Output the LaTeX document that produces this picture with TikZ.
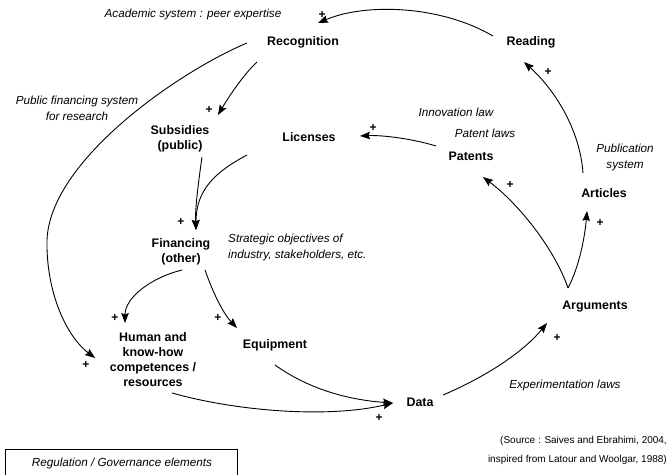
\documentclass[tikz,border=0pt]{standalone}
\usepackage{fontspec}
\setmainfont{Liberation Sans}
\usetikzlibrary{arrows.meta}
\begin{document}
\begin{tikzpicture}[x=1pt,y=-1pt,
  element/.style={font=\fontsize{12.4}{15}\selectfont\bfseries, inner sep=0pt, align=center},
  rule/.style={font=\fontsize{11.7}{16}\selectfont\itshape, inner sep=0pt},
  plus/.style={font=\fontsize{12}{12}\selectfont\bfseries, inner sep=0pt},
  link/.style={line width=0.9pt, -{Stealth[length=10pt,width=7.5pt,inset=1.5pt]}},
  note/.style={font=\fontsize{10}{19}\selectfont, inner sep=0pt, align=right}]
\useasboundingbox (0,0) rectangle (668,474);

% system elements
\node[element] (rec)  at (303,42)    {Recognition};
\node[element] (read) at (531,42)    {Reading};
\node[element] (sub)  at (180,138.5) {Subsidies\\(public)};
\node[element] (lic)  at (309,137)   {Licenses};
\node[element] (fin)  at (181,252)   {Financing\\(other)};
\node[element] (hum)  at (153,359.5) {Human and\\know-how\\competences /\\resources};
\node[element] (equ)  at (275,345)   {Equipment};
\node[element] (data) at (420,402)   {Data};
\node[element] (arg)  at (595,307)   {Arguments};
\node[element] (art)  at (604,193)   {Articles};
\node[element] (pat)  at (471,156)   {Patents};

% regulation / governance labels
\node[rule] (acad) at (193,14) {Academic system : peer expertise};
\node[rule, align=center] (pubfin) at (77,108.5) {Public financing system\\for research};
\node[rule] (inno) at (456,112) {Innovation law};
\node[rule] (patl) at (485,133) {Patent laws};
\node[rule, align=center] (pubsys) at (625,157) {Publication\\system};
\node[rule, align=left, anchor=west] (strat) at (228,247) {Strategic objectives of\\industry, stakeholders, etc.};
\node[rule] (expl) at (565,385) {Experimentation laws};

% legend and source
\node[rule, draw, line width=0.7pt, minimum width=232pt, minimum height=32pt] (legend) at (121,465) {};
\node[rule] (legendtxt) at (122,463) {Regulation / Governance elements};
\node[note, anchor=east] (src) at (667,450.5) {(Source : Saives and Ebrahimi, 2004,\\inspired from Latour and Woolgar, 1988)};

% causal links
\draw[link] ([shift={(-38,-6)}]read.center) .. controls (440,5) and (365,3) .. ([shift={(15,-19)}]rec.center);
\draw[link] ([shift={(-46,20)}]rec.center) .. controls (243,75) and (228,98) .. ([shift={(38,-23.5)}]sub.center);
\draw[link] ([shift={(22,18.5)}]sub.center) .. controls (198,185) and (195,210) .. ([shift={(15,-22)}]fin.center);
\draw[link] ([shift={(-62,18)}]lic.center) .. controls (215,172) and (196,190) .. ([shift={(15,-22)}]fin.center);
\draw[link] ([shift={(-56,1)}]rec.center) .. controls (180,71) and (50,160) .. (47,240)
            .. controls (46,290) and (65,335) .. ([shift={(-58,-1.5)}]hum.center);
\draw[link] ([shift={(1,18)}]fin.center) .. controls (150,278) and (125,298) .. ([shift={(-28,-36.5)}]hum.center);
\draw[link] ([shift={(24,18)}]fin.center) .. controls (212,290) and (222,312) .. ([shift={(-38,-17)}]equ.center);
\draw[link] ([shift={(0,20)}]equ.center) .. controls (310,390) and (350,400) .. ([shift={(-27,1)}]data.center);
\draw[link] ([shift={(19,33.5)}]hum.center) .. controls (240,412) and (330,418) .. ([shift={(-27,1)}]data.center);
\draw[link] ([shift={(23,-7)}]data.center) .. controls (490,375) and (525,350) .. ([shift={(-48,16)}]arg.center);
\draw[link] ([shift={(-27,-19)}]arg.center) .. controls (555,250) and (520,205) .. ([shift={(12,21)}]pat.center);
\draw[link] ([shift={(-27,-19)}]arg.center) .. controls (580,265) and (585,235) .. ([shift={(-17,18)}]art.center);
\draw[link] ([shift={(-21,-20)}]art.center) .. controls (580,130) and (555,90) .. ([shift={(-7,20)}]read.center);
\draw[link] ([shift={(-35,-10)}]pat.center) .. controls (410,138) and (380,135) .. ([shift={(51,-1)}]lic.center);

% link polarities
\node[plus] (p1)  at (322,15)  {+};
\node[plus] (p2)  at (209,110) {+};
\node[plus] (p3)  at (181,222) {+};
\node[plus] (p4)  at (115,318) {+};
\node[plus] (p5)  at (218,318) {+};
\node[plus] (p6)  at (86,365)  {+};
\node[plus] (p7)  at (379,418) {+};
\node[plus] (p8)  at (557,338) {+};
\node[plus] (p9)  at (510,185) {+};
\node[plus] (p10) at (600,223) {+};
\node[plus] (p11) at (548,72)  {+};
\node[plus] (p12) at (373,128) {+};
\end{tikzpicture}
\end{document}
